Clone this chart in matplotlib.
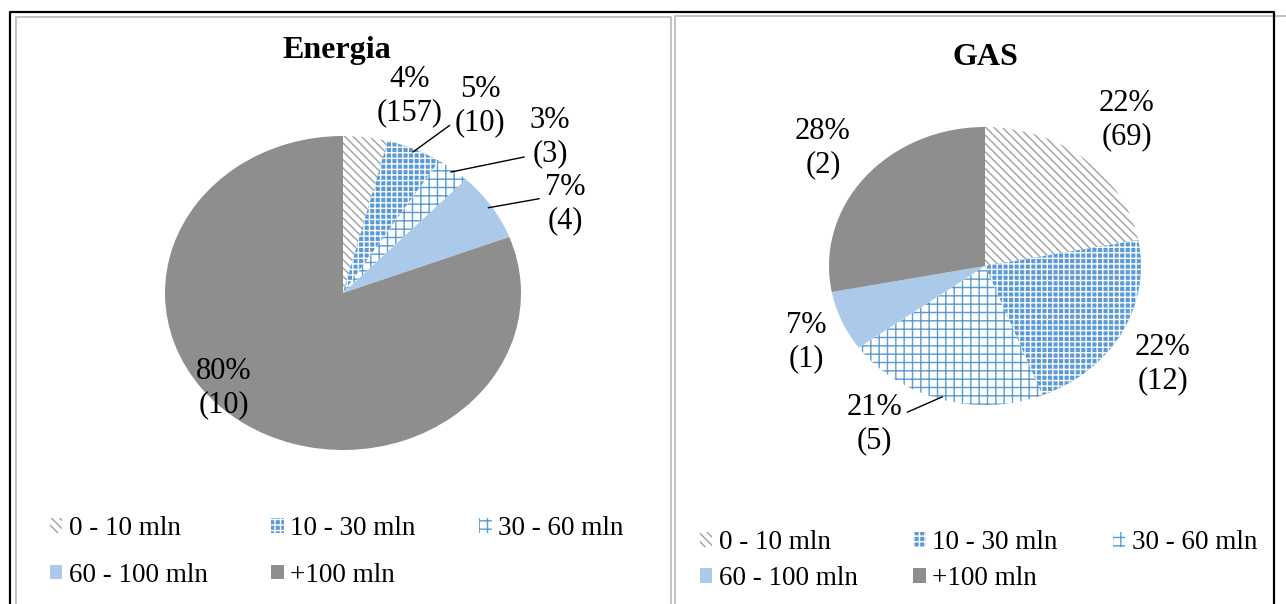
import matplotlib
matplotlib.use('Agg')
import matplotlib.pyplot as plt
from matplotlib.lines import Line2D
import numpy as np

W, H = 1286, 604
plt.rcParams['font.family'] = ['Liberation Serif', 'DejaVu Serif']
plt.rcParams['hatch.linewidth'] = 1.0

# ---- data ----
categories = ['0 - 10 mln', '10 - 30 mln', '30 - 60 mln', '60 - 100 mln', '+100 mln']
energia_pct = [4, 5, 3, 7, 80]
energia_count = [157, 10, 3, 4, 10]
gas_pct = [22, 22, 21, 7, 28]
gas_count = [69, 12, 5, 1, 2]

# ---- styles ----
face = ['white', '#5b9bd5', 'white', '#abcaea', '#8e8e8e']
hatchcol = ['#a0a0a0', 'white', '#5b9bd5', '#abcaea', '#8e8e8e']
hatches = ['\\\\\\\\', '+++', '++', None, None]

fig = plt.figure(figsize=(W / 100, H / 100), dpi=100)


def fx(x):
    return x / W


def fy(y):
    return 1 - y / H


# panel borders
fig.add_artist(Line2D([fx(16), fx(16), fx(671), fx(671)], [fy(H + 5), fy(17), fy(17), fy(H + 5)],
                      color='#c4c4c4', lw=1.5, transform=fig.transFigure))
fig.add_artist(Line2D([fx(675), fx(675), fx(W + 5)], [fy(H + 5), fy(15.5), fy(15.5)],
                      color='#c4c4c4', lw=1.5, transform=fig.transFigure))
fig.add_artist(Line2D([fx(10), fx(10), fx(1274), fx(1274)], [fy(H + 5), fy(12), fy(12), fy(H + 5)],
                      color='black', lw=1.6, transform=fig.transFigure, zorder=5))


def draw_pie(cx, cy, rx, ry, pct, counts, label_pos, leaders):
    ax = fig.add_axes([fx(cx - 1.25 * rx), fy(cy + 1.25 * ry), 2.5 * rx / W, 2.5 * ry / H])
    wedges, _ = ax.pie(pct, startangle=90, counterclock=False, colors=face,
                       wedgeprops=dict(linewidth=0))
    for w, h, hc in zip(wedges, hatches, hatchcol):
        w.set_edgecolor(hc)
        if h:
            w.set_hatch(h)
    ax.set_aspect('auto')
    ax.set_xlim(-1.25, 1.25)
    ax.set_ylim(-1.25, 1.25)
    ax.axis('off')
    for i, w in enumerate(wedges):
        lab = f"{pct[i]}%\n({counts[i]})"
        x, y = label_pos[i]
        kw = dict(textcoords='figure pixels', ha='center', va='center',
                  fontsize=22, linespacing=1.22, annotation_clip=False)
        if leaders[i] is not None:
            mid = np.deg2rad((w.theta1 + w.theta2) / 2)
            ax.annotate(lab, xy=(np.cos(mid) * 0.98, np.sin(mid) * 0.98), xytext=(x, H - y),
                        arrowprops=dict(arrowstyle='-', color='black', lw=1,
                                        shrinkA=2, shrinkB=0, relpos=leaders[i]), **kw)
        else:
            ax.annotate(lab, xy=(0, 0), xytext=(x, H - y), **kw)
    return wedges


order = [0, 3, 1, 4, 2]

# Energia
wE = draw_pie(343, 293, 178, 157, energia_pct, energia_count,
              [(410, 96), (480, 106), (550, 137), (565, 204), (224, 388)],
              [None, (0, 0.25), (0, 0.2), (0, 0.6), None])
fig.text(fx(337), fy(58), 'Energia', ha='center', va='baseline', fontsize=23, fontweight='bold')
fig.legend([wE[i] for i in order], [categories[i] for i in order], ncol=3,
           loc='upper left', bbox_to_anchor=(fx(50), fy(516)), frameon=False,
           fontsize=19.5, handlelength=0.45, handleheight=0.45, handletextpad=0.25,
           columnspacing=2.35, labelspacing=0.8, borderpad=0, borderaxespad=0)

# GAS
wG = draw_pie(985, 266, 156, 139, gas_pct, gas_count,
              [(1127, 120), (1163, 364), (874, 424), (806, 342), (823, 148)],
              [None, None, (1, 0.65), None, None])
fig.text(fx(985), fy(65), 'GAS', ha='center', va='baseline', fontsize=23, fontweight='bold')
fig.legend([wG[i] for i in order], [categories[i] for i in order], ncol=3,
           loc='upper left', bbox_to_anchor=(fx(700), fy(530)), frameon=False,
           fontsize=19.5, handlelength=0.45, handleheight=0.45, handletextpad=0.25,
           columnspacing=2.05, labelspacing=0.42, borderpad=0, borderaxespad=0)

fig.savefig('out.png', dpi=100)
